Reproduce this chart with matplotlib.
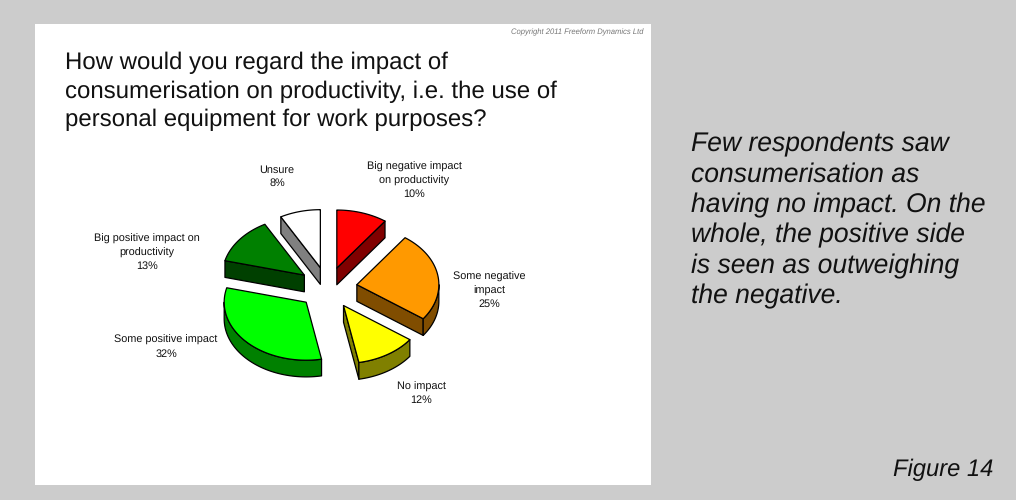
import numpy as np
import matplotlib
matplotlib.use("Agg")
import matplotlib.pyplot as plt
from matplotlib.patches import Polygon, Rectangle

plt.rcParams['font.family'] = ['Liberation Sans', 'DejaVu Sans']
plt.rcParams['text.hinting'] = 'no_hinting'

# Survey results
categories = ["Big negative impact\non productivity", "Some negative\nimpact", "No impact",
              "Some positive impact", "Big positive impact on\nproductivity", "Unsure"]
shares = [10, 25, 12, 32, 13, 8]
top_colors = ["#FF0000", "#FF9900", "#FFFF00", "#00FF00", "#008000", "#FFFFFF"]
wall_colors = ["#800000", "#804D00", "#808000", "#008000", "#004000", "#808080"]
label_anchors = [(414, 180.5), (489, 290.5), (421, 393.5), (166, 347), (147, 252.5), (277, 176.5)]

question = ("How would you regard the impact of\n"
            "consumerisation on productivity, i.e. the use of\n"
            "personal equipment for work purposes?")
commentary = ["Few respondents saw", "consumerisation as", "having no impact. On the",
              "whole, the positive side", "is seen as outweighing", "the negative."]

# Pie geometry on the pixel grid of the figure
CX, CY = 327.7, 287.9
RX, RY = 82.0, 58.0
EXPLODE = 0.36
DEPTH = 16.7

fig = plt.figure(figsize=(10.16, 5.0), dpi=100, facecolor="#CCCCCC")
ax = fig.add_axes([0, 0, 1, 1])
ax.set_xlim(0, 1016)
ax.set_ylim(500, 0)
ax.axis("off")

ax.add_patch(Rectangle((35, 24), 616, 461, facecolor="white", edgecolor="none", zorder=0))


def point(theta, apex):
    return np.array([apex[0] + RX * np.sin(theta), apex[1] - RY * np.cos(theta)])


def add_wall(path, color, z):
    lowered = [(x, y + DEPTH) for x, y in path][::-1]
    ax.add_patch(Polygon(list(path) + lowered, closed=True, facecolor=color,
                         edgecolor="black", linewidth=0.9, joinstyle="round", zorder=z))


edges = np.cumsum([0] + shares) / sum(shares) * 2 * np.pi
for i, share in enumerate(shares):
    start, end = edges[i], edges[i + 1]
    mid = (start + end) / 2
    apex = (CX + EXPLODE * RX * np.sin(mid), CY - EXPLODE * RY * np.cos(mid))
    base_z = 2 + i * 0.01
    tip = np.array(apex)
    centroid = point(mid, apex) * 0.5 + tip * 0.5

    # Side walls along the two straight cuts, kept only when they face the viewer
    for theta in (start, end):
        rim = point(theta, apex)
        d = rim - tip
        normal = np.array([-d[1], d[0]])
        if np.dot(normal, centroid - tip) > 0:
            normal = -normal
        if normal[1] > 1e-6:
            add_wall([tip, rim], wall_colors[i], base_z)

    # Outer wall on the front half of the rim
    low, high = max(start, np.pi / 2), min(end, 3 * np.pi / 2)
    if high > low:
        add_wall([point(t, apex) for t in np.linspace(low, high, 60)], wall_colors[i], base_z + 0.001)

    # Top face
    arc = [point(t, apex) for t in np.linspace(start, end, 80)]
    ax.add_patch(Polygon([tip] + arc, closed=True, facecolor=top_colors[i], edgecolor="black",
                         linewidth=0.9, joinstyle="round", zorder=base_z + 0.002))

    x, y = label_anchors[i]
    ax.text(x, y, f"{categories[i]}\n{share}%", ha="center", va="center", fontsize=7.8,
            linespacing=1.38, color="#111111", zorder=5)

ax.text(65, 91.5, question, ha="left", va="center", fontsize=17.25, linespacing=1.35,
        color="#111111", zorder=5)
ax.text(643, 32, "Copyright 2011 Freeform Dynamics Ltd", ha="right", va="center",
        fontsize=5.5, style="italic", color="#777777", zorder=5)

for n, line in enumerate(commentary):
    ax.text(691, 144.5 + n * 30.4, line, ha="left", va="center", fontsize=19.1,
            style="italic", color="#111111", zorder=5)
ax.text(993, 469.5, "Figure 14", ha="right", va="center", fontsize=17.1, style="italic",
        color="#111111", zorder=5)

fig.savefig("out.png", dpi=100, facecolor=fig.get_facecolor())
